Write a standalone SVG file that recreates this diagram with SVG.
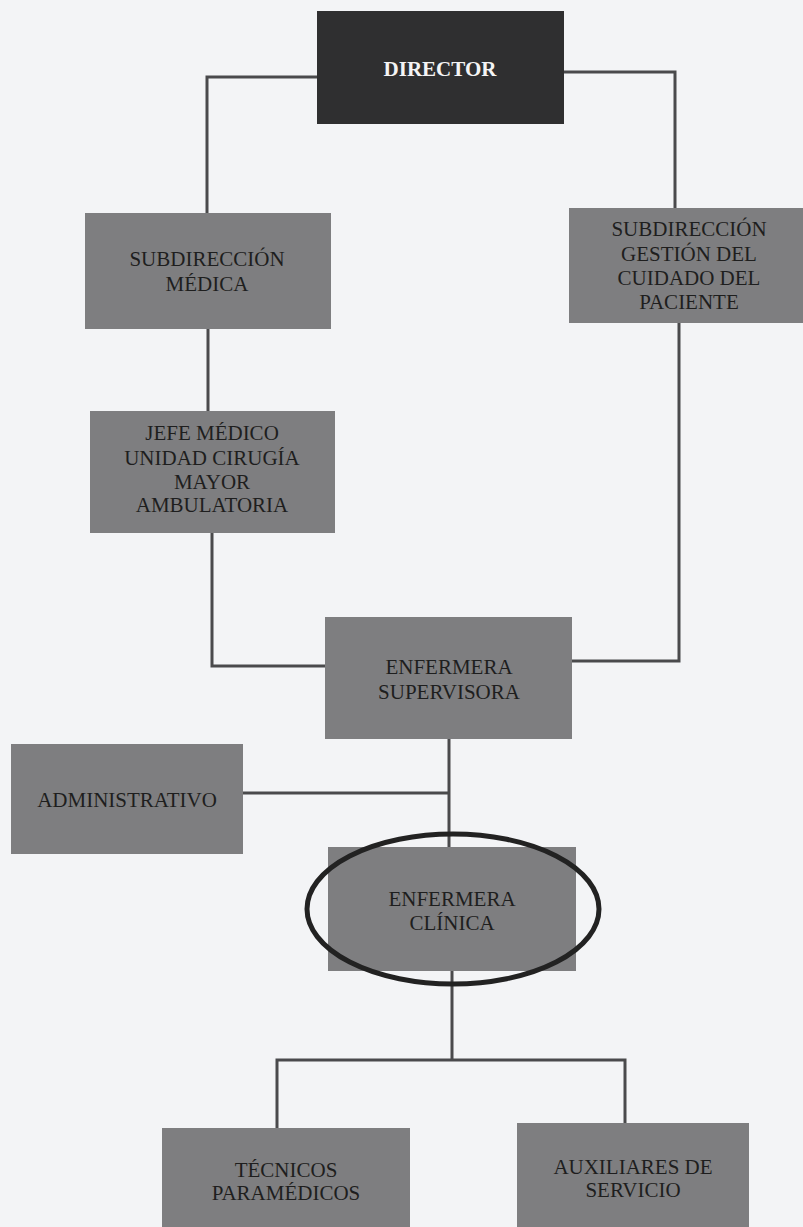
<svg xmlns="http://www.w3.org/2000/svg" width="803" height="1227" viewBox="0 0 803 1227">
<style>
.bg{fill:#f3f4f6}
.box{fill:#7e7e80}
.dark{fill:#2f2f30}
.t{font-family:"Liberation Serif","Times New Roman",serif;font-size:21px;fill:#1e1e1e;text-anchor:middle}
.tw{font-family:"Liberation Serif","Times New Roman",serif;font-size:21px;font-weight:bold;fill:#f4f4f4;text-anchor:middle}
.c{fill:none;stroke:#4a4a4c;stroke-width:3}
</style>
<rect class="bg" x="0" y="0" width="803" height="1227"/>
<g id="connectors">
<polyline class="c" points="317,77 207,77 207,213"/>
<polyline class="c" points="563,72 675,72 675,208"/>
<line class="c" x1="208" y1="328" x2="208" y2="412"/>
<polyline class="c" points="212,533 212,666 326,666"/>
<polyline class="c" points="679,322 679,661 571,661"/>
<line class="c" x1="449" y1="738" x2="449" y2="848"/>
<line class="c" x1="243" y1="793" x2="449" y2="793"/>
<polyline class="c" points="452,970 452,1060"/>
<polyline class="c" points="277,1128 277,1060 625,1060 625,1124"/>
</g>
<g id="director">
<rect class="dark" x="317" y="11" width="247" height="113"/>
<text class="tw" x="440" y="76">DIRECTOR</text>
</g>
<g id="subdireccion-medica">
<rect class="box" x="85" y="213" width="246" height="116"/>
<text class="t" x="207" y="266">SUBDIRECCIÓN</text>
<text class="t" x="207" y="291">MÉDICA</text>
</g>
<g id="subdireccion-gestion">
<rect class="box" x="569" y="208" width="240" height="115"/>
<text class="t" x="689" y="236">SUBDIRECCIÓN</text>
<text class="t" x="689" y="261">GESTIÓN DEL</text>
<text class="t" x="689" y="285">CUIDADO DEL</text>
<text class="t" x="689" y="309">PACIENTE</text>
</g>
<g id="jefe-medico">
<rect class="box" x="90" y="411" width="245" height="122"/>
<text class="t" x="212" y="440">JEFE MÉDICO</text>
<text class="t" x="212" y="465">UNIDAD CIRUGÍA</text>
<text class="t" x="212" y="489">MAYOR</text>
<text class="t" x="212" y="512">AMBULATORIA</text>
</g>
<g id="enfermera-supervisora">
<rect class="box" x="325" y="617" width="247" height="122"/>
<text class="t" x="449" y="674">ENFERMERA</text>
<text class="t" x="449" y="699">SUPERVISORA</text>
</g>
<g id="administrativo">
<rect class="box" x="11" y="744" width="232" height="110"/>
<text class="t" x="127" y="807">ADMINISTRATIVO</text>
</g>
<g id="enfermera-clinica">
<rect class="box" x="328" y="847" width="248" height="124"/>
<text class="t" x="452" y="906">ENFERMERA</text>
<text class="t" x="452" y="930">CLÍNICA</text>
<ellipse cx="453" cy="909" rx="146" ry="75" fill="none" stroke="#222" stroke-width="5"/>
</g>
<g id="tecnicos-paramedicos">
<rect class="box" x="162" y="1128" width="248" height="105"/>
<text class="t" x="286" y="1177">TÉCNICOS</text>
<text class="t" x="286" y="1200">PARAMÉDICOS</text>
</g>
<g id="auxiliares-servicio">
<rect class="box" x="517" y="1123" width="232" height="110"/>
<text class="t" x="633" y="1174">AUXILIARES DE</text>
<text class="t" x="633" y="1197">SERVICIO</text>
</g>
</svg>
